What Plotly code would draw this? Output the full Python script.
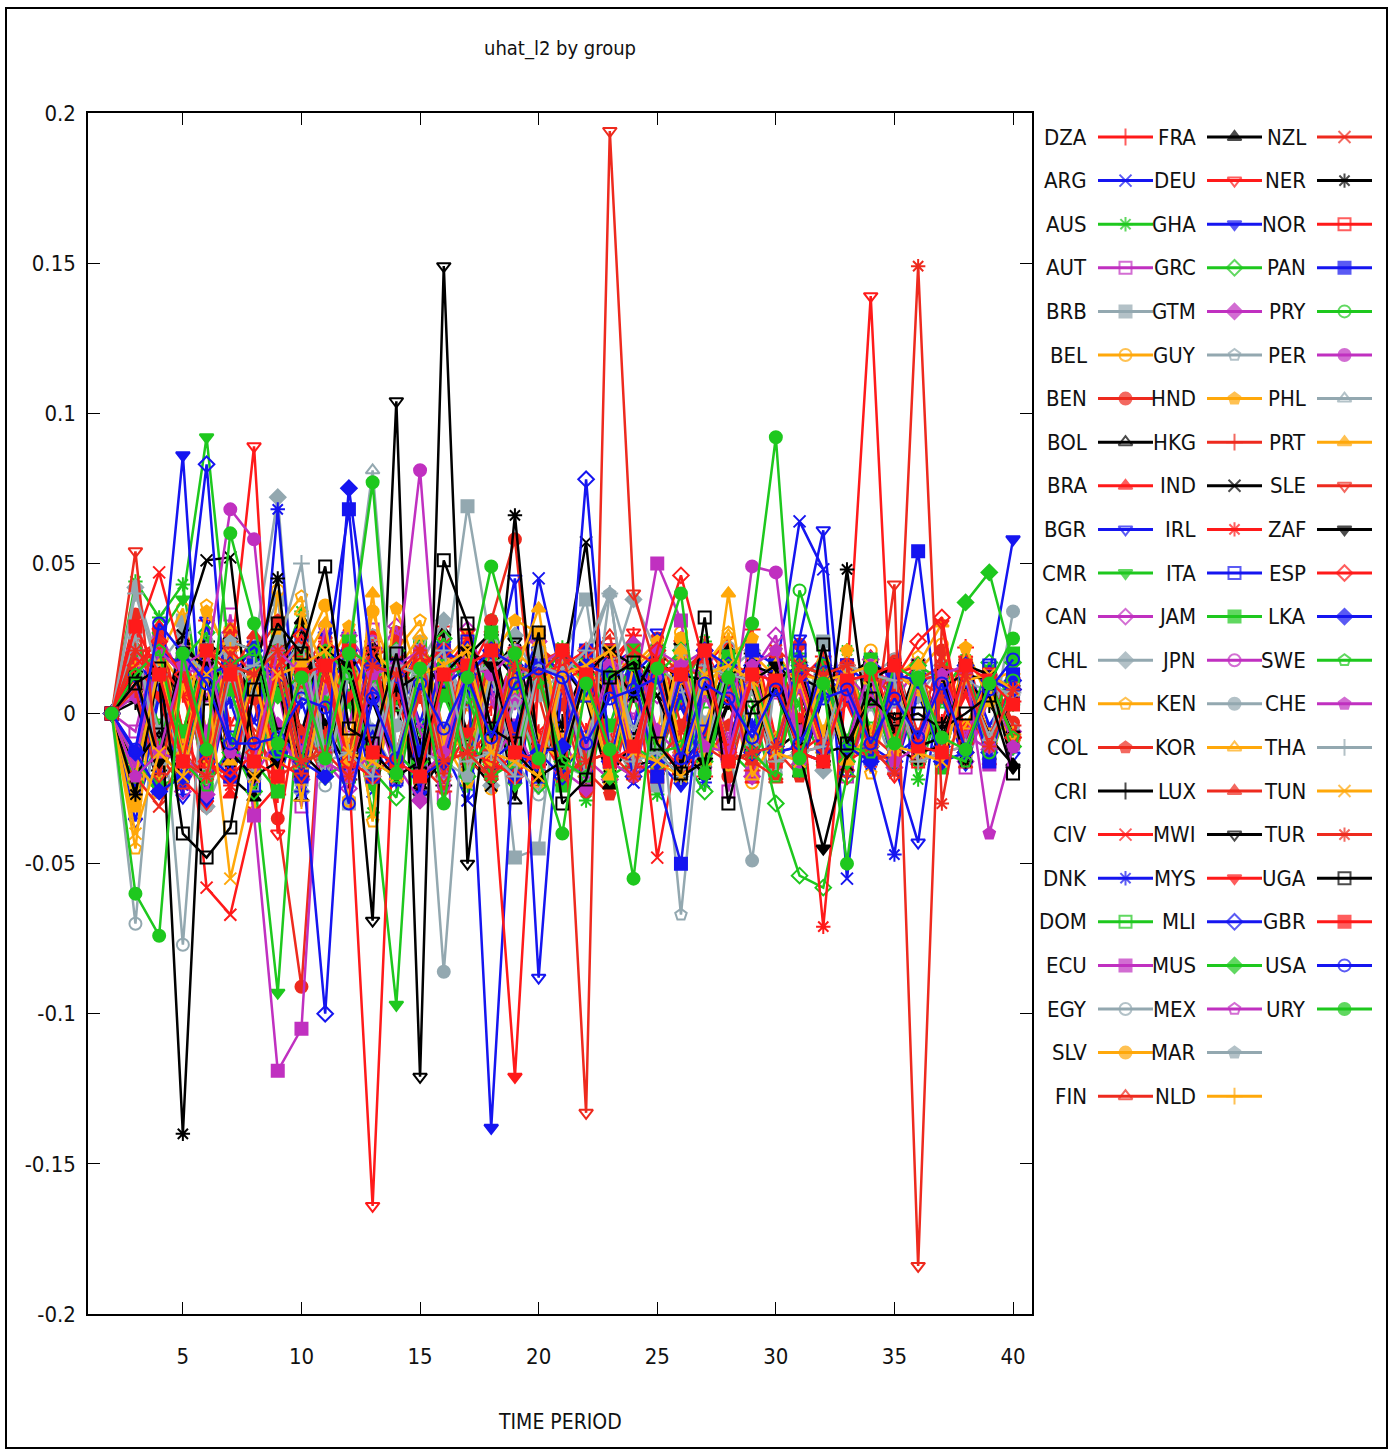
import plotly.graph_objects as go

periods = list(range(2, 41))

countries = ["DZA", "ARG", "AUS", "AUT", "BRB", "BEL", "BEN", "BOL", "BRA", "BGR", "CMR", "CAN",
             "CHL", "CHN", "COL", "CRI", "CIV", "DNK", "DOM", "ECU", "EGY", "SLV", "FIN",
             "FRA", "DEU", "GHA", "GRC", "GTM", "GUY", "HND", "HKG", "IND", "IRL", "ITA", "JAM",
             "JPN", "KEN", "KOR", "LUX", "MWI", "MYS", "MLI", "MUS", "MEX", "MAR", "NLD",
             "NZL", "NER", "NOR", "PAN", "PRY", "PER", "PHL", "PRT", "SLE", "ZAF", "ESP", "LKA",
             "SWE", "CHE", "THA", "TUN", "TUR", "UGA", "GBR", "USA", "URY"]

DZA = [0, .021, .008, -.018, .031, -.004, .012, -.027, .016, .003,
       -.011, .024, -.019, .007, .029, -.013, .002, .018, -.024, .009,
       -.006, .017, .026, -.015, .004, -.021, .013, .028, -.009, .011,
       .019, -.016, .005, -.012, .014, -.003, .022, -.010, .004]
ARG = [0, -.031, -.009, .014, -.024, .019, -.003, .028, -.017, .006,
       .013, -.026, .009, .022, -.012, -.029, .016, -.008, .045, .011,
       -.018, .007, -.023, .015, .002, -.014, .024, -.005, .013, .064,
       .048, -.055, .012, -.019, .006, -.011, .017, -.004, .009]
AUS = [0, .044, .032, .043, -.008, .026, -.021, .013, .034, -.019,
       .004, -.033, .027, -.006, .018, -.024, .031, .008, -.013, .022,
       -.029, .011, .019, -.027, .006, .024, -.012, -.020, .016, .003,
       -.017, .021, -.009, .014, -.022, .007, .018, -.011, .003]
AUT = [0, -.006, .027, .011, -.018, .033, -.025, .009, -.031, .017,
       -.004, .028, -.016, .012, -.028, .021, .005, -.019, .026, -.008,
       -.024, .016, -.002, .021, -.017, .010, -.026, .019, .007, -.013,
       .015, -.021, .004, .017, -.009, .012, -.018, .006, -.010]
BRB = [0, .026, -.014, .031, -.026, .008, .019, .038, -.022, .014,
       -.030, .020, .004, -.027, .012, .069, .022, -.048, -.045, .018,
       .038, -.016, .007, -.024, .021, -.003, .016, -.021, .011, -.006,
       .024, -.012, .003, -.018, .015, .009, -.014, .012, .004]
BEL = [0, -.026, .019, .035, -.007, .028, -.033, .041, -.014, .022,
       -.029, .016, .008, .024, -.018, .003, -.025, .020, .026, -.009,
       .013, -.021, .017, -.006, .027, -.015, .009, -.023, .018, -.004,
       .012, -.019, .021, -.008, .014, .023, -.013, .006, -.009]
BEN = [0, .033, -.008, .024, -.031, .017, .005, -.035, -.091, .022,
       -.019, .006, .027, -.023, .014, -.006, .031, .058, -.018, .003,
       -.026, .019, -.012, .025, -.004, .016, -.021, .009, -.014, .023,
       -.016, .005, -.010, .018, -.007, .021, -.012, .014, -.003]
BOL = [0, .008, -.026, .017, .004, .023, -.019, .011, -.028, .007,
       .021, -.013, .002, -.024, .027, -.008, .015, -.029, .018, -.005,
       .009, -.022, .016, -.011, .024, -.017, .003, -.012, .019, -.020,
       .006, -.015, .013, -.002, .008, -.016, .011, -.007, .010]
BRA = [0, -.019, .029, -.006, .021, -.027, .014, .024, -.025, .005,
       -.016, .026, -.021, .018, -.009, .013, .028, -.017, .022, -.011,
       .017, -.024, .006, -.019, .025, -.013, .015, -.022, .020, -.002,
       .013, -.018, .019, -.006, .016, -.010, .007, -.016, .012]
BGR = [0, -.036, .006, -.028, .031, -.016, .021, -.024, .004, -.019,
       .026, -.009, .019, -.003, .023, -.021, .008, .045, -.088, .014,
       -.020, .022, -.005, .027, -.019, .016, -.014, .020, -.016, .025,
       .061, -.020, .013, -.017, -.043, .014, -.011, .016, -.014]
CMR = [0, -.018, .026, .038, .092, .016, -.020, -.093, .017, .006,
       .021, -.024, -.097, .024, .009, -.019, .016, -.024, .021, .011,
       -.013, .018, .006, -.021, .014, .020, -.017, .009, -.011, .016,
       -.018, .013, .004, -.014, .017, -.009, .011, -.016, .007]
CAN = [0, .021, .013, -.026, -.011, .027, -.019, .024, .014, -.016,
       -.025, .017, .029, -.006, -.021, .028, .008, -.018, .024, .011,
       -.015, -.022, .017, .006, -.013, .021, -.009, .014, .026, -.017,
       .011, -.014, .018, .007, -.011, .013, -.016, .009, -.006]
CHL = [0, .042, .016, .027, -.031, -.012, .021, .072, -.026, .008,
       .024, -.006, -.020, .016, .031, -.014, -.024, .026, .010, -.017,
       -.021, .013, .038, .020, -.017, -.006, .014, .021, -.012, .017,
       -.019, .009, .014, -.011, .006, .016, -.013, .010, .011]
CHN = [0, -.045, .024, -.011, .036, .017, -.026, .029, .039, -.017,
       .013, -.036, .021, .031, -.008, -.019, .026, .012, -.023, .018,
       .009, -.024, .015, .022, -.014, -.006, .027, -.017, .021, .008,
       -.013, .016, -.020, .011, .019, -.012, .014, -.016, .009]
COL = [0, .012, .027, -.006, -.024, -.013, .019, .031, -.008, -.021,
       .006, .018, .024, -.017, -.025, .004, .014, -.009, .022, .016,
       -.019, -.027, .008, .021, .013, -.016, -.004, .019, -.012, -.021,
       .009, .016, -.007, -.014, .011, .006, -.013, .008, -.005]
CRI = [0, .004, -.019, -.008, .024, .017, -.014, .009, .027, -.006,
       -.022, .013, .019, -.011, -.024, .006, .021, .012, -.017, -.003,
       .016, -.021, -.009, .018, .011, -.015, .004, .020, -.012, -.006,
       .014, -.010, .007, .013, -.009, -.004, .011, .003, -.008]
CIV = [0, .024, .047, .017, -.058, -.067, -.033, -.024, .019, -.008,
       .026, .007, -.019, .014, .023, -.016, -.004, .019, -.021, .011,
       .015, -.009, .021, -.048, -.006, .016, .024, -.013, .008, -.017,
       .012, .003, -.014, .009, .016, -.010, .006, -.011, .008]
DNK = [0, -.021, .007, -.024, .016, .004, -.019, .068, -.026, .009,
       .018, -.011, -.023, .022, -.006, .017, -.018, .004, .026, -.020,
       -.008, .016, .021, -.015, .007, -.023, .014, -.004, .011, -.018,
       .013, .006, -.017, -.047, .011, -.009, .015, -.012, .010]
DOM = [0, .019, -.004, .016, -.024, -.011, .013, .026, -.019, .006,
       -.021, .014, .003, .022, -.017, -.008, -.020, .016, .011, .021,
       -.016, .008, -.011, .017, -.021, .004, .013, .010, -.014, .018,
       -.012, .016, -.005, .009, -.015, .004, -.011, .014, -.009]
ECU = [0, .014, -.026, .019, -.006, .024, -.034, -.119, -.105, .021,
       -.016, .006, -.021, .017, .009, .020, -.017, -.004, -.021, .016,
       -.013, .021, .006, .050, .031, -.017, .013, -.020, .016, -.006,
       .011, -.016, .014, .004, .016, -.013, .011, -.017, .013]
EGY = [0, -.070, .017, -.077, .024, -.009, -.019, .021, .011, -.024,
       .014, .026, -.013, -.021, .018, .004, .023, -.016, -.027, .012,
       .019, -.008, -.021, .016, .009, -.017, .022, -.013, -.020, .014,
       .006, -.016, .013, .018, -.010, -.014, .011, .007, -.009]
SLV = [0, -.029, .021, .009, -.016, .027, .014, -.023, .019, .036,
       -.011, .034, .008, -.021, .017, .026, -.014, .006, .022, -.018,
       -.009, .021, .013, -.019, .025, -.006, -.017, .020, .012, -.014,
       .017, -.010, -.016, .013, .008, -.011, .015, -.007, .010]
FIN = [0, .022, -.014, -.024, .016, .028, -.007, -.019, .013, .026,
       -.021, .009, .017, -.026, -.011, .023, .014, -.018, .006, -.023,
       .019, .026, -.012, -.017, .011, .021, -.016, .008, -.022, .015,
       .010, -.018, .013, .006, -.014, .017, -.009, .011, -.006]
FRA = [0, -.017, -.006, .024, .013, -.021, -.028, .017, .031, -.004,
       -.019, .022, .010, -.026, -.014, .019, .027, -.008, -.021, .016,
       .005, -.024, .018, .012, -.016, -.009, .021, -.013, .017, .008,
       -.015, .012, .018, -.011, -.016, .009, .013, -.008, -.017]
DEU = [0, .029, .013, -.022, -.030, .016, .089, -.040, .008, .021,
       -.019, -.164, .018, .006, -.023, .027, -.011, -.021, .016, .009,
       -.024, .013, .027, -.010, -.018, .022, .005, -.016, .019, -.013,
       -.007, .011, .139, -.021, .014, -.009, .018, -.012, .007]
GHA = [0, -.024, .006, .086, -.029, .011, .023, -.013, -.007, .026,
       -.018, .014, .021, -.027, .009, .016, -.138, -.004, .021, .013,
       -.022, .008, .019, -.016, -.024, .012, .020, -.009, .015, -.019,
       .007, -.014, .018, .011, -.013, .006, -.017, .013, .058]
GRC = [0, -.023, -.011, .018, .027, -.009, -.026, .012, .021, -.016,
       .008, -.019, -.028, .014, .025, .006, -.017, .011, -.024, .019,
       .013, -.021, .007, .022, -.014, -.026, .017, .004, -.030, -.054,
       -.058, -.021, .014, .009, -.016, .012, -.006, .017, -.011]
GTM = [0, .006, .024, -.011, -.027, .013, .019, -.004, -.022, .009,
       .026, .014, -.017, -.029, .008, .021, -.012, .004, .017, -.019,
       -.025, .011, .023, -.006, -.014, .018, .009, -.021, .013, -.008,
       .016, .007, -.013, -.018, .010, .014, -.007, -.012, .008]
GUY = [0, .015, -.022, .026, -.017, .009, -.024, .018, .006, .021,
       -.014, .011, -.019, .024, -.008, .017, -.021, .004, -.016, .013,
       -.010, .019, -.006, .014, -.067, .012, -.015, .008, -.019, .011,
       -.006, .015, -.012, .004, -.013, .010, -.007, .006, -.005]
HND = [0, -.031, .024, -.008, .034, .019, -.012, .026, -.022, .014,
       .029, -.017, .035, .011, -.009, -.023, .018, .031, .027, -.014,
       .006, -.019, .016, .024, -.011, .008, .019, .025, -.013, .017,
       -.006, .021, -.012, .014, .009, -.016, .022, .004, -.010]
HKG = [0, .008, -.024, -.013, .019, .024, -.011, .016, -.021, -.007,
       .014, .022, -.018, .006, -.026, .013, .020, -.009, .017, -.022,
       -.014, .011, .019, -.016, -.006, .023, .012, -.019, .009, -.013,
       .016, -.021, .007, .012, -.015, .006, -.010, .013, -.004]
IND = [0, .013, -.019, .026, .051, .052, -.016, .021, -.006, .018,
       -.021, .004, -.017, .019, .008, -.014, -.024, .021, -.016, .013,
       .057, -.021, .016, .006, -.013, -.020, .014, .009, -.016, .012,
       .008, -.017, .014, -.006, .016, -.012, .010, -.007, .004]
IRL = [0, -.021, .017, .006, -.016, -.024, .013, .021, -.011, .024,
       .019, -.016, .007, -.021, .014, .025, -.018, .012, -.006, -.020,
       .016, .009, -.013, .019, -.021, -.008, .017, .013, -.016, .010,
       -.071, .012, -.014, .007, -.012, .016, -.005, .011, -.009]
ITA = [0, .017, .009, -.021, .019, -.008, -.024, .016, .026, .013,
       -.017, -.006, -.022, .019, .011, .024, -.016, -.009, -.021, .017,
       .006, .021, -.016, .013, -.019, -.006, .016, .011, -.013, .021,
       -.011, .016, .009, -.014, -.008, .013, -.010, .016, .004]
JAM = [0, -.021, .016, -.006, .021, .008, -.016, -.026, .019, -.011,
       .024, -.016, .013, -.021, .006, -.013, .027, -.017, .014, -.024,
       .017, -.004, .021, -.016, .016, -.011, .019, -.013, .009, -.019,
       .014, -.009, .018, -.013, .011, -.018, .014, -.010, .020]
JPN = [0, .013, -.016, .021, .006, .016, -.021, -.008, -.017, .029,
       -.013, .024, -.019, .011, -.024, .018, -.006, .021, -.016, .013,
       -.011, .016, -.013, .021, -.017, .006, -.011, .016, -.013, .009,
       -.016, .013, .004, .016, -.013, .011, -.008, .013, -.011]
KEN = [0, .021, -.006, .016, -.021, .019, .008, .024, -.017, .013,
       -.021, .017, -.004, .021, -.086, .016, -.013, .020, .006, .014,
       -.021, .016, -.013, .020, -.017, .013, -.011, -.049, .013, -.016,
       .013, -.011, .016, -.013, .011, -.016, .013, -.011, .034]
KOR = [0, -.016, -.027, .009, .017, .024, -.014, -.016, .034, .013,
       -.011, -.021, .014, .026, -.006, -.013, .016, .021, -.009, -.016,
       .014, .008, -.021, -.013, .011, .016, .026, -.021, -.008, .013,
       .011, -.016, -.006, .014, .016, -.013, -.004, .011, .014]
LUX = [0, .019, .024, -.013, -.021, .013, .026, .019, -.006, -.016,
       -.021, .013, .006, .021, .014, -.016, -.021, -.013, .017, .021,
       .013, -.016, -.021, .013, .017, .011, -.013, -.016, -.021, .013,
       .017, .011, -.013, -.016, .011, .013, -.017, .011, -.008]
MWI = [0, -.017, -.006, -.021, .016, .024, .021, -.006, -.013, -.021,
       .016, -.069, .104, -.121, .149, -.050, .013, .024, -.011, -.013,
       .016, .020, -.017, -.016, .013, .011, -.016, -.013, .011, .016,
       -.013, -.011, .016, .013, -.011, -.008, .013, .011, -.007]
MYS = [0, .016, .006, -.021, -.016, .021, .013, -.016, -.021, .013,
       .006, .021, -.013, .016, -.021, -.006, -.016, -.121, .013, -.016,
       .021, .009, -.013, .016, -.021, -.013, .011, .016, -.013, -.011,
       .013, -.016, -.011, .013, .016, -.011, .013, -.008, .011]
MLI = [0, .013, -.021, .016, .083, -.016, .021, .013, -.013, -.100,
       .021, .006, -.016, -.021, .016, .013, .021, -.016, -.013, -.021,
       .078, -.016, .013, .021, -.016, -.013, .011, .016, -.013, -.011,
       .016, .013, -.011, -.016, .013, -.011, .016, -.013, .011]
MUS = [0, -.016, -.024, -.021, .016, -.013, .021, .006, .013, -.021,
       -.016, .013, .021, -.016, .013, -.021, -.006, .013, .011, -.016,
       .013, -.021, -.016, .013, .021, -.016, .013, -.011, .016, -.013,
       .011, -.016, .013, -.011, .016, .011, .037, .047, .017]
MEX = [0, .021, -.013, -.016, -.021, .013, .016, .021, -.013, .016,
       -.021, -.013, .016, .021, -.013, .016, -.021, .013, .016, .021,
       -.013, .016, -.021, -.013, .016, .021, -.013, .016, -.011, .013,
       -.016, .013, -.011, .016, -.013, .011, -.016, .013, -.011]
MAR = [0, -.013, .016, -.021, .013, .024, .021, -.013, .016, -.021,
       .013, -.016, .021, -.013, -.016, -.021, .013, -.016, .021, -.013,
       .016, .040, .013, -.016, .021, -.013, .016, -.011, .013, -.016,
       .011, -.013, .016, -.011, .013, -.016, .011, -.013, .008]
NLD = [0, .016, -.021, .013, -.016, .021, -.013, .016, -.029, .013,
       -.016, .021, .013, .016, -.021, .013, -.016, .021, .013, .016,
       -.021, .013, -.016, .021, -.013, .016, -.011, .013, -.016, .011,
       -.013, .016, -.011, .013, -.016, .011, -.013, .008, -.007]
NZL = [0, -.021, -.031, -.013, .021, .016, .013, -.021, -.016, -.013,
       .021, .016, .013, -.021, -.016, -.013, .021, .016, .013, -.021,
       -.016, -.013, .021, .016, .013, -.011, -.016, -.013, .021, .016,
       .013, -.011, -.016, -.013, .011, .016, .013, -.011, .008]
NER = [0, -.027, .015, -.140, .021, -.016, .013, .045, -.021, .016,
       -.013, .021, .008, .013, -.021, .016, -.013, .066, -.016, .013,
       -.021, .016, .006, .021, -.016, .013, -.011, .016, .013, -.013,
       -.016, .048, -.013, .016, -.011, .013, -.016, .011, -.008]
NOR = [0, .016, .021, .013, -.016, -.021, -.013, .016, .021, .013,
       -.016, -.021, -.013, .016, .021, .013, -.016, -.021, -.011, .016,
       .013, .021, -.016, -.021, -.013, .016, .013, .011, -.016, -.013,
       -.011, .016, .013, .011, -.016, -.013, -.011, .013, .008]
PAN = [0, -.013, .021, .016, -.013, -.021, .016, .013, -.021, .016,
       .068, -.021, .016, -.013, .021, .016, -.013, -.021, .016, .013,
       .021, -.016, .013, -.021, -.050, .016, -.013, .021, .016, .013,
       -.011, .016, -.013, .011, .054, -.013, .011, -.016, .013]
PRY = [0, .021, .013, -.016, -.021, .016, .013, .021, -.016, -.013,
       .021, .016, -.013, -.021, .016, .013, -.021, -.016, .013, .021,
       -.016, .013, -.011, -.016, .013, .021, -.016, .013, -.011, .041,
       .016, -.013, .011, -.016, .013, -.011, .016, -.013, .011]
PER = [0, -.016, .021, .013, .016, .068, .058, -.021, .016, -.013,
       .021, -.016, .013, .081, -.021, .016, .013, .021, -.016, .013,
       -.021, .016, -.013, .021, .016, .013, -.011, .049, .047, -.016,
       .013, -.011, .016, -.013, .011, -.016, .013, -.011, .008]
PHL = [0, .026, -.016, .021, .013, .016, -.021, .013, .024, -.016,
       .021, .081, -.013, .016, -.021, .013, .016, .021, -.013, .016,
       -.021, .040, -.016, .013, -.021, .016, -.013, .011, .016, -.013,
       .011, -.016, .013, -.011, .016, -.013, .011, -.008, .007]
PRT = [0, -.021, .016, -.013, .021, -.016, .013, -.021, .016, .030,
       -.016, .040, -.021, .016, -.013, .021, -.016, .013, .035, -.016,
       .013, -.021, .016, -.013, .021, -.016, .040, -.013, .016, -.011,
       .013, -.016, .011, -.013, .016, .030, -.013, .011, -.008]
SLE = [0, .054, -.021, .016, -.013, .021, -.016, .013, -.021, .016,
       -.013, .021, -.016, .013, -.021, .016, -.013, .021, -.016, .013,
       -.133, .194, .040, .013, -.021, .016, -.013, .011, -.016, .013,
       -.011, .016, -.013, .043, -.184, .030, -.013, .011, -.008]
ZAF = [0, .013, -.016, .021, .016, -.013, -.021, -.016, .013, .021,
       .016, -.013, -.021, -.016, .013, .021, .016, -.013, -.021, -.016,
       .013, .021, .016, -.013, -.021, -.016, .013, .011, .016, -.013,
       -.045, -.013, .011, .016, -.013, -.011, .016, .013, -.018]
ESP = [0, .016, .024, .013, -.016, -.021, -.013, .016, .026, .013,
       -.016, -.021, .013, .016, .021, -.013, -.016, -.021, .013, .016,
       .021, -.013, -.016, .021, .046, .016, -.013, .011, -.016, .013,
       -.011, .016, -.013, .011, .024, .032, -.013, .011, -.008]
LKA = [0, -.013, -.026, -.021, .013, .016, .021, -.013, -.016, -.021,
       .075, .016, .013, -.021, -.016, .013, .021, .016, -.013, -.011,
       .016, .013, -.021, -.016, .013, .021, .016, -.013, -.011, .016,
       .013, -.011, -.016, .013, .011, -.016, -.013, .011, .008]
SWE = [0, .013, .021, -.016, -.024, .016, .021, -.013, -.016, .021,
       .013, -.016, -.021, .013, .016, -.013, -.021, .016, .013, -.016,
       -.021, .013, .016, -.013, -.011, .013, .016, -.013, -.021, .016,
       .013, -.011, -.013, .016, .011, -.013, -.016, .011, -.008]
CHE = [0, -.021, -.013, .016, .021, -.013, -.016, .021, .013, -.016,
       -.021, .013, .016, -.021, -.013, .016, .021, -.013, -.016, .021,
       .013, -.016, -.021, .013, .016, -.011, -.013, .016, .021, -.013,
       -.016, .011, .013, -.016, -.011, .013, .016, -.040, -.011]
THA = [0, .040, .013, -.016, -.021, .013, .016, .021, .050, -.016,
       -.013, -.021, .016, .013, .021, -.016, -.013, -.021, .016, .013,
       .021, .040, -.016, -.013, -.021, .016, .013, .011, -.016, -.013,
       -.011, .016, .013, .011, -.016, -.013, -.011, .008, .007]
TUN = [0, -.040, -.013, -.021, .013, -.055, -.021, .013, .016, .021,
       -.013, -.016, -.021, .013, .016, .021, -.013, -.016, -.021, .013,
       .016, .021, -.013, -.016, -.021, .013, .016, .011, -.013, -.016,
       .011, .013, .016, -.011, -.013, -.016, .011, .013, .008]
TUR = [0, .021, .013, -.016, -.021, .016, .013, .021, -.016, -.013,
       -.021, .016, .013, .021, -.016, -.013, -.021, .016, .013, .021,
       -.016, -.013, -.021, .016, .013, .021, -.016, -.013, -.011, .016,
       .013, .016, -.011, -.020, .149, -.030, .013, -.011, .008]
UGA = [0, .010, .015, -.040, -.048, -.038, .008, .030, .020, .049,
       -.005, -.010, .020, -.020, .051, .030, -.005, -.010, .027, -.030,
       -.022, .012, .017, -.010, -.020, .032, -.030, .002, .008, -.012,
       .023, -.010, .005, -.002, .000, -.005, .000, .006, -.020]
GBR = [0, .029, .013, -.016, .021, .013, -.016, -.021, .013, .016,
       .021, -.013, -.016, -.021, .013, .016, .021, -.013, -.016, .021,
       .013, -.016, -.011, .016, .013, .021, -.016, .013, .011, -.013,
       -.016, .011, .013, .016, -.011, -.013, .016, .011, .003]
USA = [0, -.012, .030, .020, .010, -.010, -.010, -.008, .005, .002,
       -.030, .005, -.015, .010, -.005, .012, -.008, .010, .015, .012,
       -.010, .005, .008, .012, -.015, .010, .005, -.008, .008, -.010,
       .005, .008, -.010, .005, -.008, .010, -.012, .008, .018]
URY = [0, -.060, -.074, .020, -.012, .060, .030, -.010, .012, -.015,
       .020, .077, -.020, .015, -.030, .012, .049, .020, -.015, -.040,
       .010, -.012, -.055, .015, .040, -.020, .012, .030, .092, -.015,
       .010, -.050, .015, -.010, .012, -.008, -.012, .010, .025]

series = [DZA, ARG, AUS, AUT, BRB, BEL, BEN, BOL, BRA, BGR, CMR, CAN, CHL, CHN, COL, CRI,
          CIV, DNK, DOM, ECU, EGY, SLV, FIN, FRA, DEU, GHA, GRC, GTM, GUY, HND, HKG, IND,
          IRL, ITA, JAM, JPN, KEN, KOR, LUX, MWI, MYS, MLI, MUS, MEX, MAR, NLD, NZL, NER,
          NOR, PAN, PRY, PER, PHL, PRT, SLE, ZAF, ESP, LKA, SWE, CHE, THA, TUN, TUR, UGA,
          GBR, USA, URY]

y_ticks = [-0.2, -0.15, -0.1, -0.05, 0, 0.05, 0.1, 0.15, 0.2]
y_tick_labels = ["-0.2", "-0.15", "-0.1", "-0.05", "0", "0.05", "0.1", "0.15", "0.2"]
x_ticks = [5, 10, 15, 20, 25, 30, 35, 40]

# styles (gnuplot-like cycles)
palette = ["#ff1a1a", "#1515f0", "#1ec81e", "#c030c0", "#93a8b0", "#ffa80a", "#ee2a1e", "#000000"]
symbols = ["cross-thin", "x-thin", "asterisk", "square-open", "square", "circle-open", "circle",
           "triangle-up-open", "triangle-up", "triangle-down-open", "triangle-down",
           "diamond-open", "diamond", "pentagon-open", "pentagon"]

FONT = "Liberation Sans Narrow, Arial Narrow, DejaVu Sans Condensed, sans-serif"

L, R, T, B = 88, 6, 113, 136
W, H = 1391, 1450
PW = W - L - R
PH = H - T - B

fig = go.Figure()

for i, (name, vals) in enumerate(zip(countries, series)):
    color = palette[i % len(palette)]
    sym = symbols[i % len(symbols)]
    fig.add_trace(go.Scatter(
        x=periods, y=vals, mode="lines+markers", name=name,
        line=dict(color=color, width=2.5),
        marker=dict(symbol=sym, size=12, color=color, line=dict(color=color, width=2)),
        xaxis="x", yaxis="y", showlegend=False))

# custom legend: label on the left, line sample with marker on the right
label_right = [1089, 1198, 1308]
row0, row_step = 137, 43.6
annotations = []
for i, name in enumerate(countries):
    color = palette[i % len(palette)]
    sym = symbols[i % len(symbols)]
    col, row = divmod(i, 23)
    y = row0 + row * row_step
    x0 = label_right[col] + 9
    x1 = x0 + 55
    fig.add_trace(go.Scatter(
        x=[x0, (x0 + x1) / 2, x1], y=[y, y, y], mode="lines+markers",
        line=dict(color=color, width=3),
        marker=dict(symbol=sym, size=[0, 12, 0], color=color, line=dict(color=color, width=2)),
        xaxis="x2", yaxis="y2", showlegend=False, hoverinfo="skip"))
    annotations.append(dict(x=label_right[col], y=y, xref="x2", yref="y2", text=name,
                            showarrow=False, xanchor="right", yanchor="middle",
                            font=dict(family=FONT, size=22, color="#111111")))

annotations.append(dict(x=(560 - L) / PW, y=(H - B - 48) / PH, xref="paper", yref="paper",
                        text="uhat_l2 by group", showarrow=False, xanchor="center", yanchor="middle",
                        font=dict(family=FONT, size=20, color="#111111")))
annotations.append(dict(x=(560 - L) / PW, y=(H - B - 1422) / PH, xref="paper", yref="paper",
                        text="TIME PERIOD", showarrow=False, xanchor="center", yanchor="middle",
                        font=dict(family=FONT, size=21, color="#111111")))

axis_common = dict(showline=True, linecolor="black", linewidth=1.5, mirror="allticks",
                   ticks="inside", ticklen=12, tickwidth=1, tickcolor="black",
                   showgrid=False, zeroline=False,
                   tickfont=dict(family=FONT, size=22, color="#111111"))

fig.update_layout(
    width=W, height=H,
    margin=dict(l=L, r=R, t=T, b=B),
    paper_bgcolor="white", plot_bgcolor="rgba(0,0,0,0)",
    showlegend=False,
    xaxis=dict(domain=[0, (1032 - L) / PW], range=[1, 40.8], tickvals=x_ticks,
               ticklabelstandoff=22, anchor="y", **axis_common),
    yaxis=dict(domain=[0, 1], range=[-0.2, 0.2], tickvals=y_ticks, ticktext=y_tick_labels,
               ticklabelstandoff=6, anchor="x", **axis_common),
    xaxis2=dict(domain=[0, 1], range=[L, W - R], visible=False, anchor="y2"),
    yaxis2=dict(domain=[0, 1], range=[H - B, T], visible=False, anchor="x2"),
    annotations=annotations,
    shapes=[dict(type="rect", xref="paper", yref="paper",
                 x0=(6 - L) / PW, x1=(1387 - L) / PW,
                 y0=(H - B - 1448) / PH, y1=(H - B - 8) / PH,
                 line=dict(color="black", width=2), fillcolor="rgba(0,0,0,0)")],
)

fig.write_html("out.html")
